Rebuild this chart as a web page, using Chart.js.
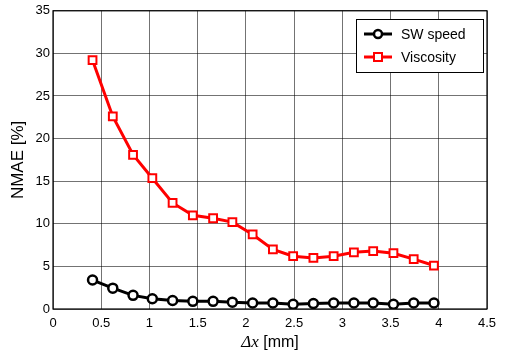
<!DOCTYPE html>
<html>
<head>
<meta charset="utf-8">
<script src="https://cdn.jsdelivr.net/npm/chart.js@4"></script>
<style>
  body { margin: 0; background: #fff; }
  canvas { display: block; }
</style>
</head>
<body>
<canvas id="nmae" width="508" height="356"></canvas>
<script>
// grid spacing (mm)
var dx = [0.41, 0.62, 0.83, 1.03, 1.24, 1.45, 1.66, 1.86, 2.07, 2.28, 2.49, 2.70, 2.91, 3.12, 3.32, 3.53, 3.74, 3.95];
// NMAE [%]
var swSpeed = [3.4, 2.45, 1.6, 1.2, 1.0, 0.9, 0.9, 0.8, 0.7, 0.7, 0.55, 0.65, 0.7, 0.7, 0.7, 0.55, 0.7, 0.7];
var viscosity = [29.2, 22.6, 18.1, 15.35, 12.45, 11.0, 10.65, 10.2, 8.75, 7.0, 6.2, 6.0, 6.2, 6.65, 6.8, 6.55, 5.85, 5.1];
var xTicks = [0, 0.5, 1, 1.5, 2, 2.5, 3, 3.5, 4, 4.5];
var yTicks = [0, 5, 10, 15, 20, 25, 30, 35];

function pts(ys) {
    return dx.map(function (x, i) { return { x: x, y: ys[i] }; });
}

var FONT = "Liberation Sans, Arial, sans-serif";

// box, axis titles and boxed legend
var decor = {
    id: "decor",
    afterDraw: function (chart) {
        var c = chart.ctx, a = chart.chartArea;
        c.save();
        c.strokeStyle = "#000";
        c.lineWidth = 1.2;
        c.strokeRect(a.left, a.top, a.right - a.left, a.bottom - a.top);

        // y title
        c.fillStyle = "#000";
        c.font = "17px " + FONT;
        c.textAlign = "center";
        c.textBaseline = "middle";
        c.translate(18, (a.top + a.bottom) / 2);
        c.rotate(-Math.PI / 2);
        c.fillText("NMAE [%]", 0, 0);
        c.restore();

        // x title: italic Δx + [mm]
        c.save();
        c.fillStyle = "#000";
        c.textBaseline = "middle";
        var it = "italic 17px Liberation Serif, Times New Roman, serif";
        var rg = "16px " + FONT;
        c.font = it;
        var w1 = c.measureText("Δx").width;
        c.font = rg;
        var w2 = c.measureText(" [mm]").width;
        var x0 = (a.left + a.right) / 2 - (w1 + w2) / 2;
        c.font = it;
        c.textAlign = "left";
        c.fillText("Δx", x0, 343);
        c.font = rg;
        c.fillText(" [mm]", x0 + w1, 343);
        c.restore();

        // legend
        c.save();
        var bx = 356, by = 19, bw = 127, bh = 53;
        c.fillStyle = "#fff";
        c.fillRect(bx, by, bw, bh);
        c.strokeStyle = "#000";
        c.lineWidth = 1;
        c.strokeRect(bx + 0.5, by + 0.5, bw, bh);
        chart.data.datasets.forEach(function (ds, i) {
            var ly = by + 15 + i * 23;
            c.strokeStyle = ds.borderColor;
            c.lineWidth = ds.borderWidth;
            c.beginPath();
            c.moveTo(bx + 8, ly);
            c.lineTo(bx + 36, ly);
            c.stroke();
            c.lineWidth = ds.pointBorderWidth;
            c.fillStyle = "#fff";
            if (ds.pointStyle === "rect") {
                c.fillRect(bx + 18, ly - 4, 8, 8);
                c.strokeRect(bx + 18, ly - 4, 8, 8);
            } else {
                c.beginPath();
                c.arc(bx + 22, ly, 4, 0, Math.PI * 2);
                c.fill();
                c.stroke();
            }
            c.fillStyle = "#000";
            c.font = "14px " + FONT;
            c.textAlign = "left";
            c.textBaseline = "middle";
            c.fillText(ds.label, bx + 45, ly + 1);
        });
        c.restore();
    }
};

function plain(v) { return String(v); }

var ctx = document.getElementById("nmae").getContext("2d");
var chart = new Chart(ctx, {
    type: "line",
    data: {
        datasets: [{
            label: "SW speed",
            data: pts(swSpeed),
            borderColor: "#000000",
            borderWidth: 3,
            pointStyle: "circle",
            pointRadius: 4.5,
            pointBorderWidth: 2.5,
            pointBackgroundColor: "#ffffff",
            pointBorderColor: "#000000"
        }, {
            label: "Viscosity",
            data: pts(viscosity),
            borderColor: "#ff0000",
            borderWidth: 3,
            pointStyle: "rect",
            pointRadius: 5.5,
            pointBorderWidth: 2,
            pointBackgroundColor: "#ffffff",
            pointBorderColor: "#ff0000"
        }]
    },
    options: {
        responsive: false,
        animation: false,
        layout: { padding: { left: 0, right: 21, top: 9, bottom: 0 } },
        plugins: { legend: { display: false }, tooltip: { enabled: false } },
        scales: {
            x: {
                type: "linear",
                min: 0, max: 4.5,
                afterBuildTicks: function (s) { s.ticks = xTicks.map(function (v) { return { value: v }; }); },
                afterFit: function (s) { s.height = 47; },
                grid: { color: "rgba(0,0,0,0.55)", lineWidth: 1, drawTicks: false },
                border: { display: false },
                ticks: { color: "#000", font: { family: FONT, size: 13 }, padding: 7, maxRotation: 0, callback: plain }
            },
            y: {
                min: 0, max: 35,
                afterBuildTicks: function (s) { s.ticks = yTicks.map(function (v) { return { value: v }; }); },
                afterFit: function (s) { s.width = 53; },
                grid: { color: "rgba(0,0,0,0.55)", lineWidth: 1, drawTicks: false },
                border: { display: false },
                ticks: { color: "#000", font: { family: FONT, size: 13 }, padding: 3, callback: plain }
            }
        }
    },
    plugins: [decor]
});
</script>
</body>
</html>
